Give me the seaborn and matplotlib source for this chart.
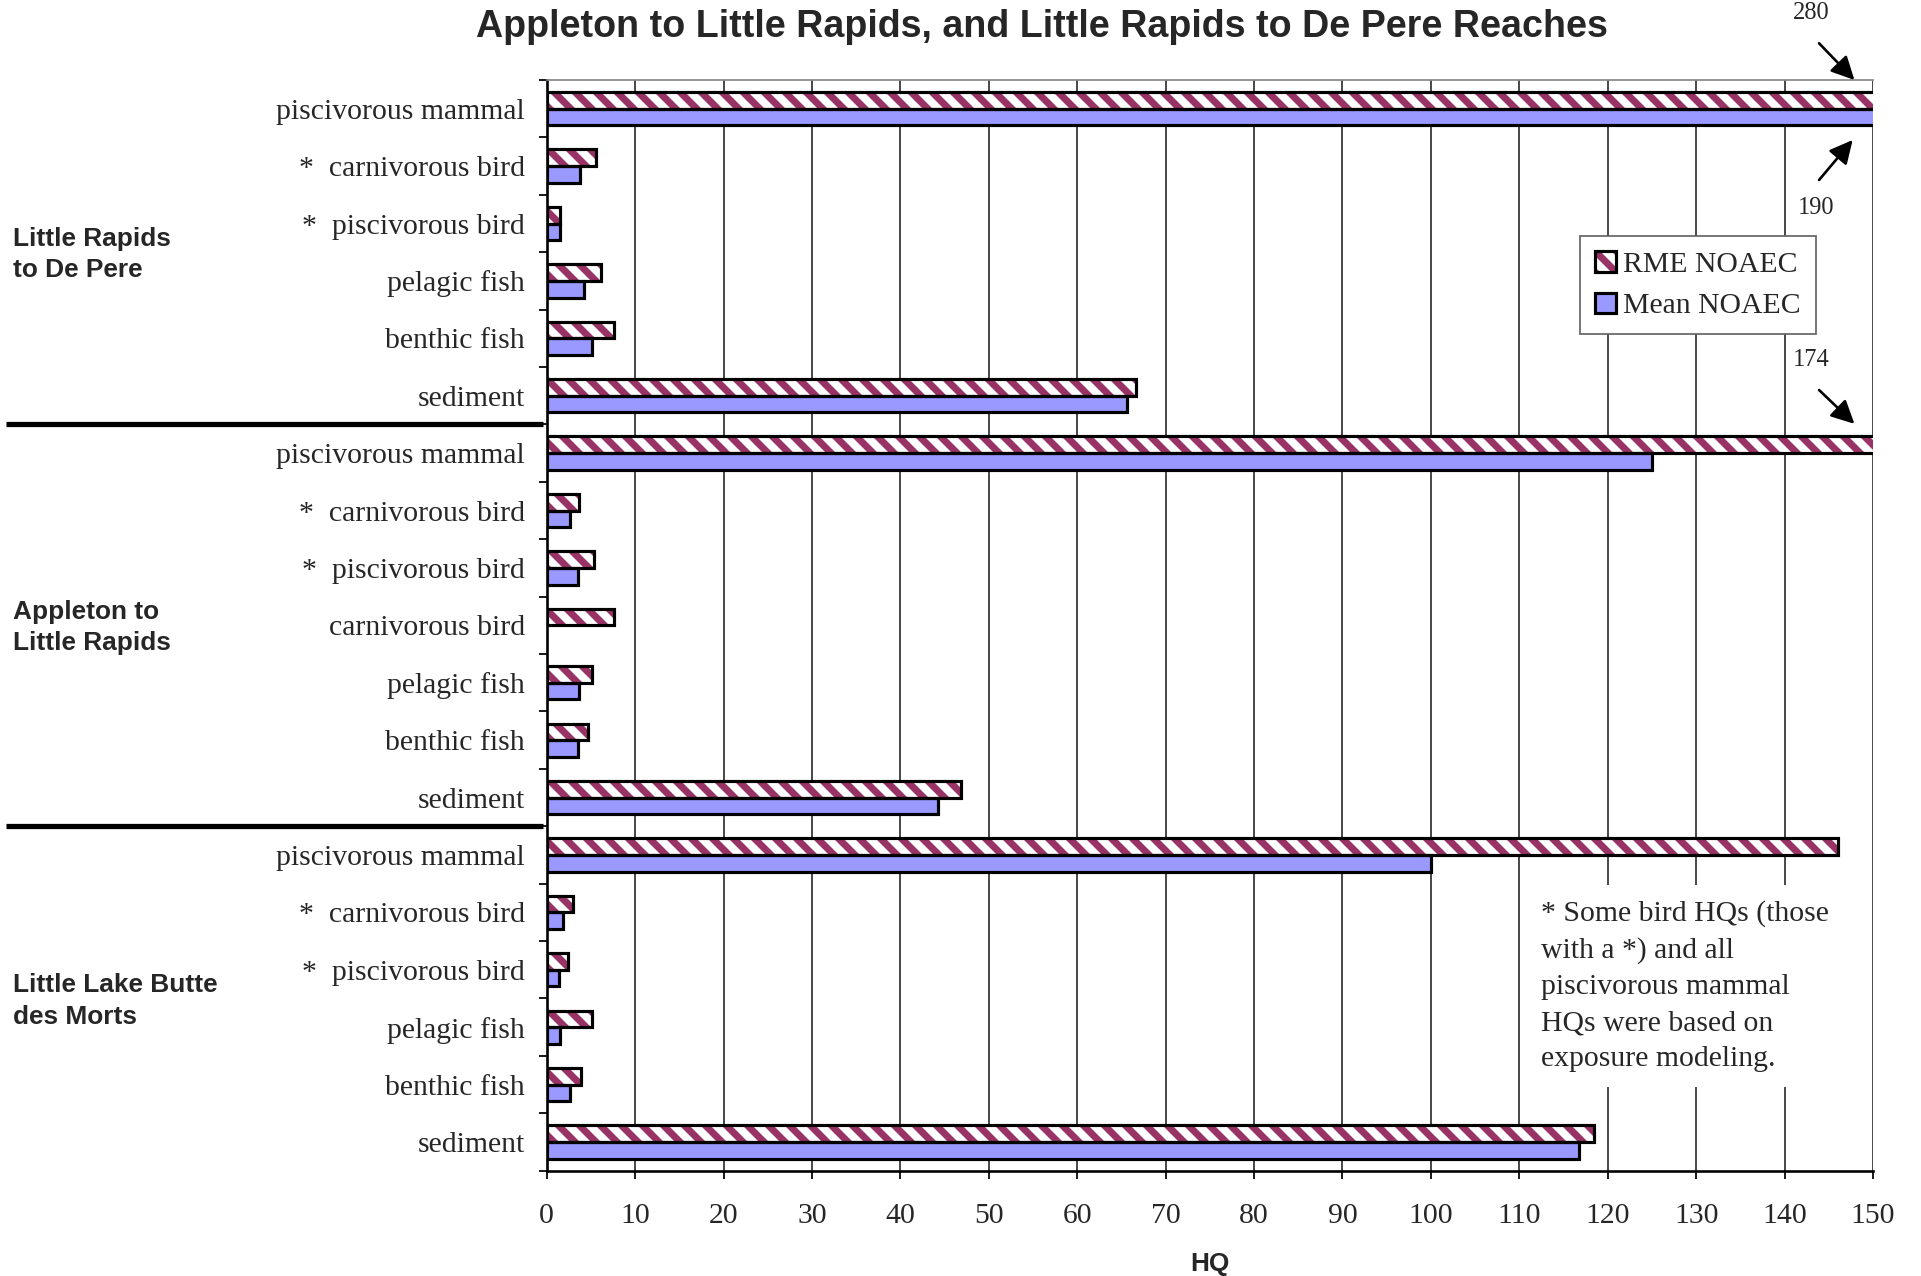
import numpy as np
import pandas as pd
import matplotlib
matplotlib.use("Agg")
import matplotlib.pyplot as plt
from matplotlib.patches import Patch, Rectangle
from matplotlib.ticker import FixedLocator
import seaborn as sns

# data (top to bottom)
reaches = ["Little Rapids\nto De Pere", "Appleton to\nLittle Rapids", "Little Lake Butte\ndes Morts"]
reach_sizes = [6, 7, 6]
receptor_labels = [
    "piscivorous mammal", "*  carnivorous bird", "*  piscivorous bird",
    "pelagic fish", "benthic fish", "sediment",
    "piscivorous mammal", "*  carnivorous bird", "*  piscivorous bird",
    "carnivorous bird", "pelagic fish", "benthic fish", "sediment",
    "piscivorous mammal", "*  carnivorous bird", "*  piscivorous bird",
    "pelagic fish", "benthic fish", "sediment",
]
rme_noaec = [280, 5.6, 1.5, 6.1, 7.6, 66.7,
             174, 3.6, 5.4, 7.6, 5.1, 4.7, 46.8,
             146, 3.0, 2.4, 5.1, 3.9, 118.4]
mean_noaec = [190, 3.8, 1.5, 4.2, 5.1, 65.6,
              125, 2.6, 3.5, np.nan, 3.6, 3.5, 44.3,
              100, 1.8, 1.4, 1.5, 2.6, 116.8]
series = ["RME NOAEC", "Mean NOAEC"]
x_ticks = list(range(0, 151, 10))
title = "Appleton to Little Rapids, and Little Rapids to De Pere Reaches"
note = ("* Some bird HQs (those\nwith a *) and all\npiscivorous mammal\n"
        "HQs were based on\nexposure modeling.")

row_ids = [f"r{i}" for i in range(len(receptor_labels))]
df = pd.DataFrame({
    "row": row_ids * 2,
    "series": [series[0]] * len(row_ids) + [series[1]] * len(row_ids),
    "HQ": rme_noaec + mean_noaec,
})

sns.set_style("white")
plt.rcParams["font.family"] = ["Liberation Serif", "DejaVu Serif"]
plt.rcParams["hatch.linewidth"] = 4

maroon = "#993366"
blue = "#9999ff"
hatch = "\\\\"

dpi = 126
fig = plt.figure(figsize=(1921 / dpi, 1276 / dpi), dpi=dpi)
ax = fig.add_axes([546.7 / 1921, 1 - 1170.7 / 1276, (1873 - 546.7) / 1921, (1170.7 - 80) / 1276])

sns.barplot(data=df, y="row", x="HQ", hue="series", order=row_ids, hue_order=series,
            orient="h", palette={series[0]: "white", series[1]: blue}, saturation=1,
            width=0.58, edgecolor="black", linewidth=1.8, errorbar=None,
            legend=False, ax=ax)

# hatched RME bars: maroon stripes with a black outline on top
for bar in ax.containers[0]:
    bar.set_hatch(hatch)
    bar.set_edgecolor(maroon)
    bar.set_linewidth(0)
    ax.add_patch(Rectangle(bar.get_xy(), bar.get_width(), bar.get_height(),
                           fill=False, edgecolor="black", lw=1.8, zorder=bar.get_zorder() + 0.1))

ax.set_xlim(0, 150)
ax.set_ylim(len(row_ids) - 0.5, -0.5)
ax.set_xticks(x_ticks)
ax.set_xticklabels([str(t) for t in x_ticks], fontsize=17)
ax.set_yticks(range(len(row_ids)))
ax.set_yticklabels(receptor_labels, fontsize=17)
ax.yaxis.set_minor_locator(FixedLocator(np.arange(-0.5, len(row_ids), 1.0)))
ax.tick_params(axis="y", which="major", length=0, pad=12.5)
ax.tick_params(axis="y", which="minor", length=4.5, width=1, color="black", direction="out", left=True)
ax.tick_params(axis="x", length=4.5, width=1, color="black", direction="out", bottom=True, pad=14)
ax.set_xlabel("HQ", fontsize=15, fontweight="bold", family=["Liberation Sans"], labelpad=13)
ax.set_ylabel("")

ax.grid(axis="x", color="#333333", lw=1)
ax.set_axisbelow(True)
for side in ["left", "bottom"]:
    ax.spines[side].set_color("black")
    ax.spines[side].set_linewidth(1.5)
ax.spines["top"].set_color("#888888")
ax.spines["top"].set_linewidth(1)
ax.spines["right"].set_visible(False)

# reach group labels and separators
trans = ax.get_yaxis_transform()
start = 0
for i, (reach, n) in enumerate(zip(reaches, reach_sizes)):
    mid = start + (n - 1) / 2 + 0.04
    ax.text(-0.4024, mid, reach, transform=trans, ha="left", va="center",
            fontsize=15, fontweight="bold", family=["Liberation Sans"], linespacing=1.4)
    start += n
    if i < len(reaches) - 1:
        ax.plot([-0.4077, -0.003], [start - 0.5, start - 0.5], transform=trans,
                color="black", lw=3, clip_on=False, solid_capstyle="butt")

# off-scale values
arrow = dict(arrowstyle="-|>,head_length=0.8,head_width=0.4", mutation_scale=14,
             color="black", lw=1.5, shrinkA=0, shrinkB=0)
off_scale = [
    (rme_noaec[0], (143.0, -1.667), (143.9, -1.14), (147.9, -0.5)),
    (mean_noaec[0], (143.6, 1.735), (143.9, 1.242), (147.7, 0.545)),
    (rme_noaec[6], (143.0, 4.38), (143.9, 4.9), (147.9, 5.49)),
]
for val, txt_pos, tail, tip in off_scale:
    ax.text(txt_pos[0], txt_pos[1], f"{val:.0f}", ha="center", va="center",
            fontsize=14, clip_on=False)
    ax.annotate("", xy=tip, xytext=tail, arrowprops=arrow, annotation_clip=False)

handles = [(Patch(facecolor="white", edgecolor=maroon, hatch=hatch, lw=0),
            Patch(facecolor="none", edgecolor="black", lw=1.8)),
           Patch(facecolor=blue, edgecolor="black", lw=1.8)]
leg = fig.legend(handles, series, loc="upper left", bbox_to_anchor=(1580 / 1921, 1 - 236 / 1276),
                 fontsize=17, handlelength=0.7, handleheight=0.7, handletextpad=0.25,
                 borderpad=0.5, labelspacing=0.5, borderaxespad=0, fancybox=False,
                 framealpha=1, edgecolor="#666666")
leg.get_frame().set_linewidth(1)

fig.text(1541 / 1921, 1 - 900 / 1276, note, ha="left", va="top", fontsize=17, linespacing=1.5,
         bbox=dict(boxstyle="square,pad=0.5", facecolor="white", edgecolor="none"))

fig.text(1042 / 1921, 1 - 27 / 1276, title, ha="center", va="center", fontsize=21.5,
         fontweight="bold", family=["Liberation Sans"])

fig.savefig("out.png", dpi=dpi)
